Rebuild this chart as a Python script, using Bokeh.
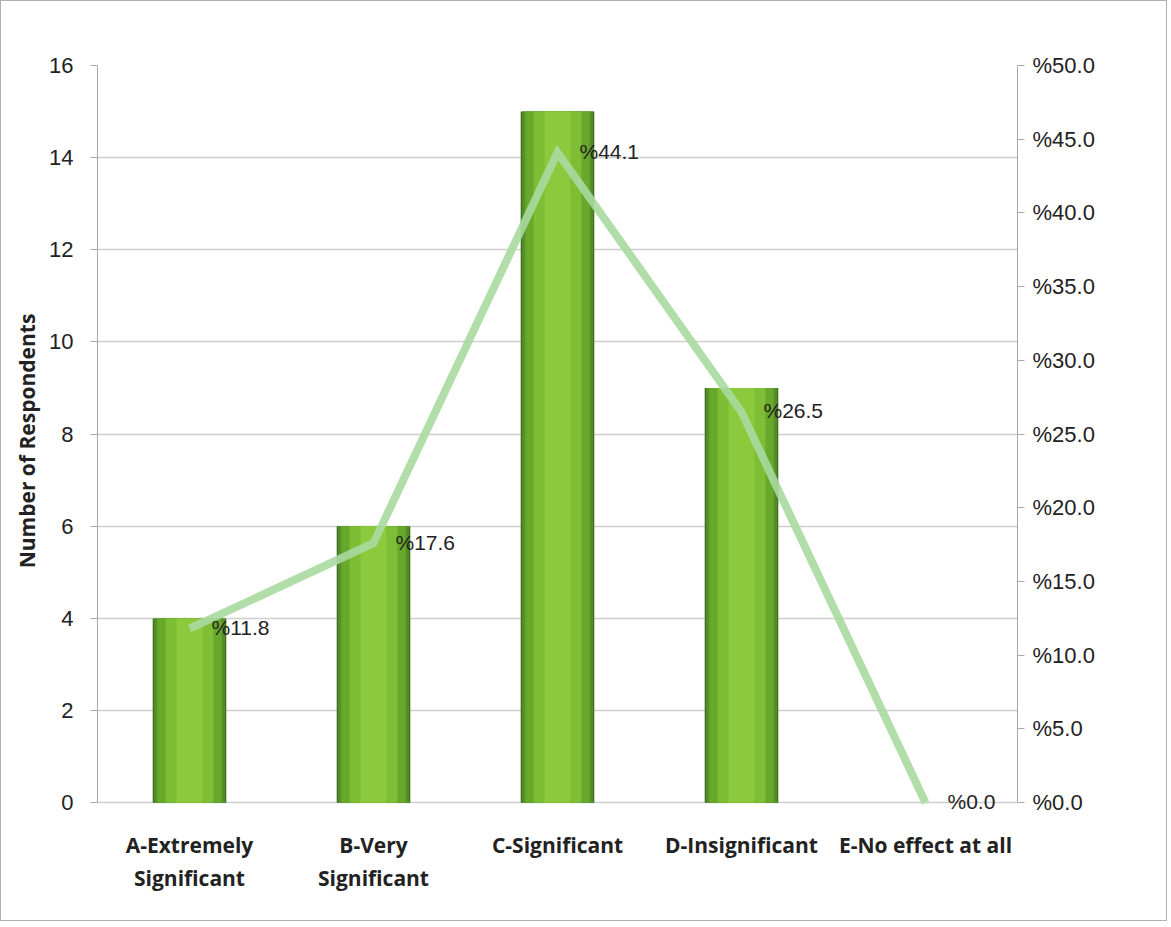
from bokeh.plotting import figure
from bokeh.models import Range1d, LinearAxis, FixedTicker, ColumnDataSource, LabelSet
from bokeh.core.properties import value
from bokeh.embed import file_html
from bokeh.resources import INLINE

categories = ["A-Extremely\nSignificant", "B-Very\nSignificant", "C-Significant",
              "D-Insignificant", "E-No effect at all"]
respondents = [4, 6, 15, 9, 0]
percent = [11.8, 17.6, 44.1, 26.5, 0.0]
percent_labels = ["%11.8", "%17.6", "%44.1", "%26.5", "%0.0"]
left_ticks = [0, 2, 4, 6, 8, 10, 12, 14, 16]
right_ticks = [0, 5, 10, 15, 20, 25, 30, 35, 40, 45, 50]
right_tick_labels = ["%0.0", "%5.0", "%10.0", "%15.0", "%20.0", "%25.0",
                     "%30.0", "%35.0", "%40.0", "%45.0", "%50.0"]

xs = list(range(len(categories)))
left_max, right_max = 16, 50
pad = 0.3  # small room under the baseline so the "%0.0" label is not cut

W, H = 1167, 921
p = figure(width=W, height=H, output_backend="svg", toolbar_location=None,
           x_range=Range1d(-0.5, 4.5), y_range=Range1d(-pad, left_max),
           min_border_left=96, min_border_right=151, min_border_top=64,
           min_border_bottom=106)
p.styles = {"border": "1px solid #b0b0b0", "box-sizing": "border-box"}
p.outline_line_color = None
p.background_fill_color = "white"
p.border_fill_color = "white"

p.extra_y_ranges = {"pct": Range1d(-pad * right_max / left_max, right_max)}

# grid
p.xgrid.grid_line_color = None
p.ygrid.ticker = FixedTicker(ticks=left_ticks)
p.ygrid.grid_line_color = "#cfcfcf"
p.ygrid.grid_line_width = 1.5

# bars (layered to imitate the gradient)
src = ColumnDataSource(dict(x=xs, top=respondents, pct=percent, lab=percent_labels))
p.vbar(x="x", top="top", width=0.40, bottom=0, source=src,
       fill_color="#3f7020", line_color=None)
p.vbar(x="x", top="top", width=0.385, bottom=0, source=src,
       fill_color="#558f27", line_color=None)
p.vbar(x="x", top="top", width=0.35, bottom=0, source=src,
       fill_color="#68a82d", line_color=None)
p.vbar(x="x", top="top", width=0.26, bottom=0, source=src,
       fill_color="#7ebe34", line_color=None)
p.vbar(x="x", top="top", width=0.14, bottom=0, source=src,
       fill_color="#8cc93c", line_color=None)

# percent line
p.line(x="x", y="pct", source=src, y_range_name="pct",
       line_color="#a9d9a0", line_width=8, line_alpha=0.9, line_join="miter")

# data labels
labels = LabelSet(x="x", y="pct", text="lab", source=src, y_range_name="pct",
                  x_offset=22, y_offset=1, text_align="left", text_baseline="middle",
                  text_font_size=value("21px"), text_color=value("#222222"),
                  text_font=value("Liberation Sans"), level="overlay")
p.add_layout(labels)

# axes
yaxis = p.yaxis[0]
yaxis.ticker = FixedTicker(ticks=left_ticks)
yaxis.bounds = (0, left_max)
yaxis.axis_label = "Number of Respondents"
yaxis.axis_label_text_font = "Open Sans"
yaxis.axis_label_text_font_style = "bold"
yaxis.axis_label_text_font_size = "21px"
yaxis.axis_label_text_color = "#222222"
yaxis.axis_label_standoff = 5
yaxis.major_label_text_font = "Liberation Sans"
yaxis.major_label_text_font_size = "22px"
yaxis.major_label_text_color = "#222222"
yaxis.major_label_standoff = 17
yaxis.axis_line_color = "#a8a8a8"
yaxis.major_tick_line_color = "#a8a8a8"
yaxis.major_tick_in = 0
yaxis.major_tick_out = 7
yaxis.minor_tick_line_color = None

raxis = LinearAxis(y_range_name="pct", ticker=FixedTicker(ticks=right_ticks))
raxis.bounds = (0, right_max)
raxis.major_label_overrides = {t: l for t, l in zip(right_ticks, right_tick_labels)}
raxis.major_label_text_font = "Liberation Sans"
raxis.major_label_text_font_size = "22px"
raxis.major_label_text_color = "#222222"
raxis.major_label_standoff = 8
raxis.axis_line_color = "#a8a8a8"
raxis.major_tick_line_color = "#a8a8a8"
raxis.major_tick_in = 0
raxis.major_tick_out = 7
raxis.minor_tick_line_color = None
p.add_layout(raxis, "right")

xaxis = p.xaxis[0]
xaxis.ticker = FixedTicker(ticks=xs)
xaxis.major_label_overrides = {x: c for x, c in zip(xs, categories)}
xaxis.major_label_text_font = "Open Sans"
xaxis.major_label_text_font_style = "bold"
xaxis.major_label_text_font_size = "21px"
xaxis.major_label_text_color = "#222222"
xaxis.major_label_standoff = 8
xaxis.axis_line_color = None
xaxis.major_tick_line_color = None
xaxis.minor_tick_line_color = None

open("out.html", "w").write(file_html(p, INLINE))
